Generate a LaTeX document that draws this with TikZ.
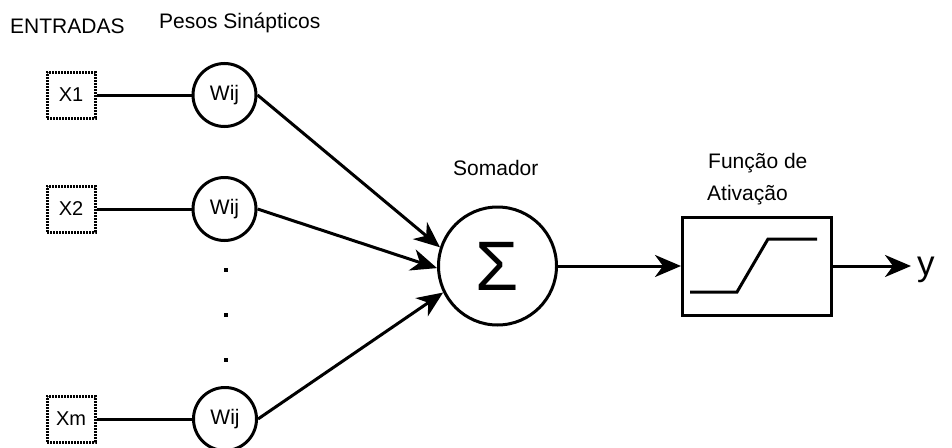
\documentclass[tikz,border=0pt]{standalone}
\usepackage{fontspec}
\setmainfont{Liberation Sans}
\usetikzlibrary{arrows.meta,calc}
\begin{document}
\begin{tikzpicture}[x=1pt,y=-1pt,
  lbl/.style={font=\fontsize{21}{25}\selectfont, inner sep=0pt, anchor=base west},
  inbox/.style={draw, line width=3pt, dash pattern=on 1.8pt off 1.2pt, minimum width=48pt, minimum height=46pt, inner sep=0pt, font=\fontsize{20}{24}\selectfont},
  weight/.style={draw, circle, line width=3pt, minimum size=63pt, inner sep=0pt, font=\fontsize{21}{25}\selectfont},
  conn/.style={line width=3pt},
  arr/.style={line width=3pt, -{Stealth[length=26pt,width=22pt,inset=8pt]}},
  dotmark/.style={fill, minimum size=4.5pt, inner sep=0pt}
]
\useasboundingbox (0,0) rectangle (952,447);

% labels
\node[lbl] (lentr) at (10,33) {ENTRADAS};
\node[lbl] (lpesos) at (159,28) {Pesos Sinápticos};
\node[lbl] (lsom) at (453,175) {Somador};
\node[lbl] (lfun1) at (708,168) {Função de};
\node[lbl] (lfun2) at (707,200) {Ativação};

% inputs
\node[inbox] (x1) at (71,95) {X1};
\node[inbox] (x2) at (71,209) {X2};
\node[inbox] (x3) at (71,419) {Xm};

% weights
\node[weight] (w1) at (224.5,95) {Wij};
\node[weight] (w2) at (224.5,209) {Wij};
\node[weight] (w3) at (225,419) {Wij};

% dots
\node[dotmark] (d1) at (226,270) {};
\node[dotmark] (d2) at (226,315) {};
\node[dotmark] (d3) at (226,360) {};

% summer
\node[draw, circle, line width=3pt, minimum size=118pt, inner sep=0pt,
      font=\fontsize{70}{70}\selectfont] (sig) at (497.5,266) {Σ};

% activation
\node[draw, line width=3pt, minimum width=149pt, minimum height=98pt, inner sep=0pt] (act) at (757,266) {};
\draw[line width=3pt] ($(act.center)+(-67,26)$) -- ($(act.center)+(-20,26)$)
  -- ($(act.center)+(11,-27)$) -- ($(act.center)+(60,-27)$);

% output
\coordinate (yend) at (911,266);
\node[inner sep=0pt, anchor=base west, font=\fontsize{35}{38}\selectfont] (yout) at (917,275) {y};

% connectors
\draw[conn] (x1) -- (w1);
\draw[conn] (x2) -- (w2);
\draw[conn] (x3) -- (w3);
\draw[arr] (w1.east) -- (sig.162);
\draw[arr] (w2.east) -- (sig.182);
\draw[arr] (w3.east) -- (sig.206);
\draw[arr] (sig) -- (act);
\draw[arr] (act.east) -- (yend);
\end{tikzpicture}
\end{document}
